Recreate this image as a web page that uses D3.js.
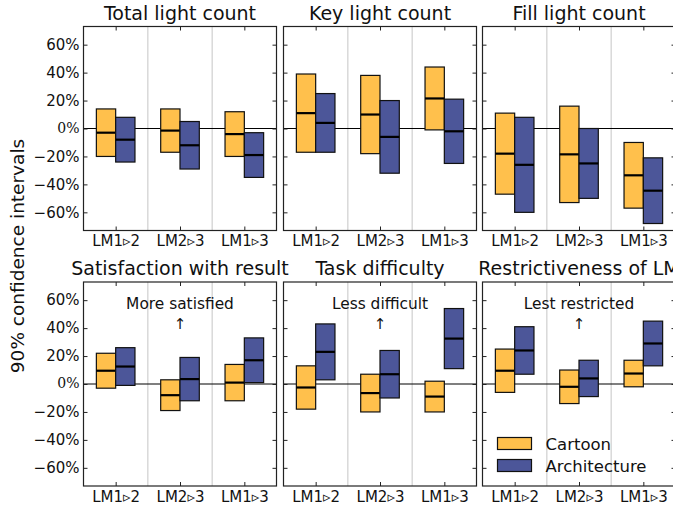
<!DOCTYPE html>
<html>
<head>
<meta charset="utf-8">
<script src="https://cdnjs.cloudflare.com/ajax/libs/d3/7.8.5/d3.min.js"></script>
<style>
  body { margin: 0; background: #fff; }
  text { font-family: "DejaVu Sans", sans-serif; fill: #111; }
</style>
</head>
<body>
<div id="chart"></div>
<script>
// comparisons along the x axis of every panel
const comparisons = ["LM1\u25B92", "LM2\u25B93", "LM1\u25B93"];
const seriesNames = ["Cartoon", "Architecture"];
const yTicks = [-60, -40, -20, 0, 20, 40, 60];

// [low, median, high] in percent, one row per comparison
const totalCartoon = [[-20, -3, 14], [-17, -1.5, 14], [-20, -4, 12]];
const totalArch    = [[-24, -8, 8], [-29, -12, 5], [-35, -19, -3]];
const keyCartoon   = [[-17, 11, 39], [-18, 10, 38], [-1, 21.5, 44]];
const keyArch      = [[-17, 4, 25], [-32, -6, 20], [-25, -2, 21]];
const fillCartoon  = [[-47, -18, 11], [-53, -18.5, 16], [-57, -33.5, -10]];
const fillArch     = [[-60, -26, 8], [-50, -25, 0], [-68, -44.5, -21]];
const satCartoon   = [[-3, 9.5, 22], [-19, -8, 3], [-12, 1, 14]];
const satArch      = [[-1, 12.5, 26], [-12, 3.5, 19], [1, 17, 33]];
const diffCartoon  = [[-18, -2.5, 13], [-20, -6.5, 7], [-20, -9, 2]];
const diffArch     = [[3, 23, 43], [-10, 7, 24], [11, 32.5, 54]];
const restCartoon  = [[-6, 9.5, 25], [-14, -2, 10], [-2, 7.5, 17]];
const restArch     = [[7, 24, 41], [-9, 4, 17], [13, 29, 45]];

const panelTitles = ["Total light count", "Key light count", "Fill light count",
  "Satisfaction with result", "Task difficulty", "Restrictiveness of LM"];
const panelNotes = [null, null, null, "More satisfied", "Less difficult", "Lest restricted"];
const panelData = [
  [totalCartoon, totalArch], [keyCartoon, keyArch], [fillCartoon, fillArch],
  [satCartoon, satArch], [diffCartoon, diffArch], [restCartoon, restArch]
];

const colors = ["#FFC04C", "#4C5699"];
const W = 673, H = 510;
const colX = [83.5, 283.5, 482.5];
const rowY = [26.5, 282];
const pw = 193, ph = 204;

const svg = d3.select("#chart").append("svg")
  .attr("width", W).attr("height", H);

const y = d3.scaleLinear().domain([-73, 73]).range([ph, 0]);
const fmt = d => d === 0 ? "" : (d < 0 ? "\u2212" : "") + Math.abs(d) + "%";

panelData.forEach((series, p) => {
  const col = p % 3, row = Math.floor(p / 3);
  const x = d3.scaleLinear().domain([0, 3]).range([0, pw]);
  const g = svg.append("g").attr("transform", `translate(${colX[col]},${rowY[row]})`);

  // group dividers
  g.selectAll(".div").data([1, 2]).enter().append("line")
    .attr("x1", d => x(d)).attr("x2", d => x(d))
    .attr("y1", 0).attr("y2", ph)
    .attr("stroke", "#cfcfcf").attr("stroke-width", 1.2);

  // zero line
  g.append("line")
    .attr("x1", 0).attr("x2", pw).attr("y1", y(0)).attr("y2", y(0))
    .attr("stroke", "#000").attr("stroke-width", 1.2);

  // boxes
  series.forEach((rows, s) => {
    const bw = 0.3;
    const x0 = (i) => s === 0 ? i + 0.5 - bw : i + 0.5;
    const box = g.selectAll(".b" + s).data(rows).enter().append("g");
    box.append("rect")
      .attr("x", (d, i) => x(x0(i)))
      .attr("width", x(bw) - x(0))
      .attr("y", d => y(d[2]))
      .attr("height", d => y(d[0]) - y(d[2]))
      .attr("fill", colors[s]).attr("stroke", "#111").attr("stroke-width", 1.2);
    box.append("line")
      .attr("x1", (d, i) => x(x0(i))).attr("x2", (d, i) => x(x0(i) + bw))
      .attr("y1", d => y(d[1])).attr("y2", d => y(d[1]))
      .attr("stroke", "#000").attr("stroke-width", 2.2);
  });

  const centers = comparisons.map((c, i) => i + 0.5);

  // axes with inward ticks
  const left = g.append("g").call(d3.axisLeft(y).tickValues(yTicks)
    .tickSizeInner(-4).tickSizeOuter(0).tickPadding(4).tickFormat(col === 0 ? fmt : ""));
  const right = g.append("g").attr("transform", `translate(${pw},0)`)
    .call(d3.axisRight(y).tickValues(yTicks).tickSizeInner(-4).tickSizeOuter(0).tickFormat(""));
  const top = g.append("g")
    .call(d3.axisTop(x).tickValues(centers).tickSizeInner(-4).tickSizeOuter(0).tickFormat(""));
  const bottom = g.append("g").attr("transform", `translate(0,${ph})`)
    .call(d3.axisBottom(x).tickValues(centers).tickSizeInner(-4).tickSizeOuter(0)
      .tickPadding(5).tickFormat((d, i) => comparisons[i]));
  [left, right, top, bottom].forEach(a => {
    a.select(".domain").remove();
    a.selectAll("line").attr("stroke", "#222").attr("stroke-width", 1);
    a.selectAll("text").style("font-family", "DejaVu Sans").style("font-size", "15px").attr("fill", "#111");
  });
  if (col === 0) {
    left.append("text").attr("x", -4).attr("y", y(0)).attr("dy", "0.32em")
      .attr("text-anchor", "end").style("font-family", "DejaVu Serif")
      .style("font-size", "14px").attr("fill", "#111").text("0%");
  }

  // frame
  g.append("rect").attr("width", pw).attr("height", ph)
    .attr("fill", "none").attr("stroke", "#222").attr("stroke-width", 1.2);

  // title
  g.append("text").attr("x", pw / 2).attr("y", -7)
    .attr("text-anchor", "middle").style("font-size", "19px").text(panelTitles[p]);

  if (panelNotes[p]) {
    g.append("text").attr("x", x(1.5)).attr("y", y(60) + 9)
      .attr("text-anchor", "middle").style("font-size", "15.4px").text(panelNotes[p]);
    g.append("text").attr("x", x(1.5)).attr("y", y(60) + 29)
      .attr("text-anchor", "middle").style("font-size", "15px").text("\u2191");
  }
});

// y label
svg.append("text")
  .attr("transform", "translate(24,256) rotate(-90)")
  .attr("text-anchor", "middle").style("font-size", "18.5px")
  .text("90% confidence intervals");

// legend
const lg = svg.append("g").attr("transform", "translate(497.5,437.5)");
seriesNames.forEach((n, i) => {
  lg.append("rect").attr("x", 0).attr("y", i * 22).attr("width", 34).attr("height", 12)
    .attr("fill", colors[i]).attr("stroke", "#111").attr("stroke-width", 1.2);
  lg.append("text").attr("x", 48).attr("y", i * 22 + 12)
    .style("font-size", "16.5px").text(n);
});
</script>
</body>
</html>
